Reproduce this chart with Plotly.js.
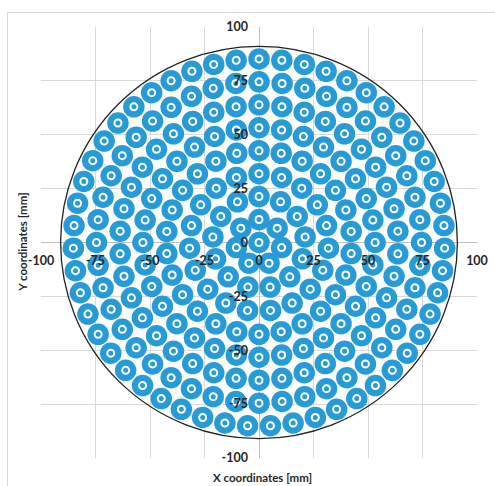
<!DOCTYPE html>
<html>
<head>
<meta charset="utf-8">
<script src="https://cdn.plot.ly/plotly-3.0.1.min.js"></script>
<style>
  html, body { margin: 0; padding: 0; background: #ffffff; }
  #wrap { position: relative; width: 495px; height: 486px; overflow: hidden; background: #ffffff; }
  #frame { position: absolute; left: 7px; top: 12px; width: 520px; height: 520px; border: 1px solid #d9d9d9; box-sizing: border-box; }
  #chart { position: absolute; left: 0; top: 0; width: 495px; height: 486px; }
</style>
</head>
<body>
<div id="wrap">
  <div id="frame"></div>
  <div id="chart"></div>
</div>
<script>
// Concentric rings of tubes
const ringRadius = [0, 10.65, 21.3, 31.95, 42.6, 53.25, 63.9, 74.55, 85.2];   // mm
const ringCount = [1, 7, 13, 19, 26, 32, 38, 44, 51];                          // tubes per ring
const ringStartDeg = [90, 90, 90, 90, 90, 90, 90, 90, 90];                     // first tube angle
const boundaryRadius = 91;                                                     // mm, outer shell
const tickValues = [-100, -75, -50, -25, 0, 25, 50, 75, 100];
const tickLabels = ['-100', '-75', '-50', '-25', '0', '25', '50', '75', '100'];
const xTitle = 'X coordinates [mm]';
const yTitle = 'Y coordinates [mm]';

const xs = [], ys = [];
ringRadius.forEach(function (r, i) {
  const n = ringCount[i];
  for (let k = 0; k < n; k++) {
    const a = (ringStartDeg[i] + k * 360 / n) * Math.PI / 180;
    xs.push(r * Math.cos(a));
    ys.push(r * Math.sin(a));
  }
});

const blue = '#279bd7';
const fontFam = 'Lato, "Open Sans", sans-serif';

const traces = [
  { type: 'scatter', mode: 'markers', x: xs, y: ys, hoverinfo: 'skip',
    marker: { size: 21.5, color: blue, line: { width: 0 } } },
  { type: 'scatter', mode: 'markers', x: xs, y: ys, hoverinfo: 'skip',
    marker: { size: 7, color: blue, line: { color: '#ffffff', width: 2 } } }
];

const axisCommon = {
  range: [-100, 100],
  tickmode: 'array',
  tickvals: tickValues,
  ticktext: tickLabels,
  showgrid: true,
  gridcolor: '#d9d9d9',
  gridwidth: 1,
  zeroline: true,
  zerolinecolor: '#bfbfbf',
  zerolinewidth: 1,
  showline: false,
  ticks: '',
  anchor: 'free',
  position: 0.5,
  fixedrange: true,
  ticklabeloverflow: 'allow',
  tickfont: { family: fontFam, size: 12.5, color: '#262626', weight: 'bold' }
};

const layout = {
  width: 495,
  height: 486,
  margin: { l: 41, r: 18, t: 27, b: 28, pad: 0 },
  paper_bgcolor: 'rgba(0,0,0,0)',
  plot_bgcolor: 'rgba(0,0,0,0)',
  showlegend: false,
  xaxis: Object.assign({}, axisCommon, { side: 'bottom', ticklabelstandoff: 9 }),
  yaxis: Object.assign({}, axisCommon, { side: 'left', ticklabelstandoff: 11 }),
  shapes: [
    { type: 'circle', xref: 'x', yref: 'y',
      x0: -boundaryRadius, x1: boundaryRadius, y0: -boundaryRadius, y1: boundaryRadius,
      line: { color: '#222222', width: 1.3 }, layer: 'above' }
  ],
  annotations: [
    { text: '<b>' + xTitle + '</b>', xref: 'paper', yref: 'paper', x: 0.508, y: -0.046,
      xanchor: 'center', yanchor: 'middle', showarrow: false,
      font: { family: fontFam, size: 11.5, color: '#262626' } },
    { text: '<b>' + yTitle + '</b>', xref: 'paper', yref: 'paper', x: -0.043, y: 0.5,
      xanchor: 'center', yanchor: 'middle', showarrow: false, textangle: -90,
      font: { family: fontFam, size: 11.5, color: '#262626' } }
  ]
};

Plotly.newPlot('chart', traces, layout, { displayModeBar: false, staticPlot: true });
</script>
</body>
</html>
